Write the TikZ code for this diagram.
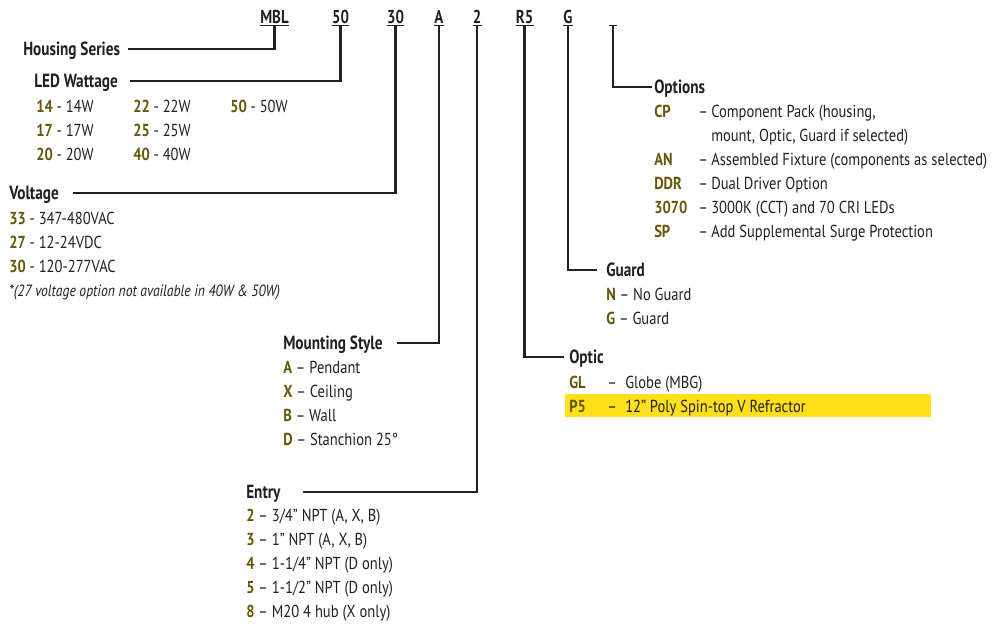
\documentclass[tikz,border=0pt]{standalone}
\usepackage{fontspec}
\setmainfont{PT Sans}[FakeStretch=0.84]
\newfontfamily\lblfont{PT Sans}[FakeStretch=0.8]
\definecolor{ink}{RGB}{35,31,32}
\definecolor{olive}{RGB}{104,86,8}
\definecolor{hl}{RGB}{255,224,26}
\newcommand\kk[1]{\textcolor{olive}{\bfseries #1}}
\newcommand\orow[4]{\makebox[#2][l]{\kk{#1}}\makebox[#3][l]{–}#4}
\begin{document}
\begin{tikzpicture}[x=0.75pt,y=-0.75pt,
 code/.style={font=\lblfont\bfseries\fontsize{14}{16}\selectfont, text=ink, inner sep=0pt, text height=9.8pt, text depth=0pt, anchor=center},
 lbl/.style={font=\lblfont\bfseries\fontsize{14.3}{16}\selectfont, text=ink, inner sep=0pt, text height=10pt, text depth=0pt, anchor=west},
 item/.style={font=\fontsize{13}{15}\selectfont, text=ink, inner sep=0pt, text height=9.1pt, text depth=0pt, anchor=west},
 note/.style={font=\fontsize{12.2}{14}\selectfont\itshape, text=ink, inner sep=0pt, text height=8.5pt, text depth=0pt, anchor=west},
 conn/.style={draw=ink, line width=1.7pt},
 uline/.style={draw=ink, line width=0.8pt}]
\useasboundingbox (0,0) rectangle (1000,625);
% highlight
\fill[hl] (565,394) rectangle (931,417);
% codes
\node[code] (mbl) at (274.5,17) {MBL};
\node[code] (c50) at (340.5,17) {50};
\node[code] (c30) at (395.5,17) {30};
\node[code] (cA) at (439,17) {A};
\node[code] (c2) at (477,17) {2};
\node[code] (cR5) at (524.5,17) {R5};
\node[code] (cG) at (568,17) {G};
\node[code, minimum width=5.25pt] (cO) at (613,17) {};
\foreach \c in {mbl,c50,c30,cA,c2,cR5,cG,cO}
  \draw[uline] ([yshift=-1.5pt]\c.south west) -- ([yshift=-1.5pt]\c.south east);
% labels
\node[lbl] (hs) at (23,49) {Housing Series};
\node[lbl] (led) at (34,81) {LED Wattage};
\node[lbl] (volt) at (9,193) {Voltage};
\node[lbl] (mount) at (283,343) {Mounting Style};
\node[lbl] (entry) at (246,492) {Entry};
\node[lbl] (guard) at (606,270) {Guard};
\node[lbl] (optic) at (569,357) {Optic};
\node[lbl] (opts) at (654,87) {Options};
% connectors
\draw[conn] ([yshift=-1.5pt]mbl.south) |- ([xshift=6pt]hs.east);
\draw[conn] ([yshift=-1.5pt]c50.south) |- ([xshift=9pt]led.east);
\draw[conn] ([yshift=-1.5pt]c30.south) |- ([xshift=10.5pt]volt.east);
\draw[conn] ([yshift=-1.5pt]cA.south) |- ([xshift=10.5pt]mount.east);
\draw[conn] ([yshift=-1.5pt]c2.south) |- ([xshift=17pt]entry.east);
\draw[conn] ([yshift=-1.5pt]cR5.south) |- ([xshift=-3.75pt]optic.west);
\draw[conn] ([yshift=-1.5pt]cG.south) |- ([xshift=-6.75pt]guard.west);
\draw[conn] ([yshift=-1.5pt]cO.south) |- ([xshift=-1.5pt]opts.west);
% wattage
\node[item] (w14) at (36,106) {\kk{14} - 14W};
\node[item] (w17) at (36,130) {\kk{17} - 17W};
\node[item] (w20) at (36,154) {\kk{20} - 20W};
\node[item] (w22) at (133,106) {\kk{22} - 22W};
\node[item] (w25) at (133,130) {\kk{25} - 25W};
\node[item] (w40) at (133,154) {\kk{40} - 40W};
\node[item] (w50) at (230,106) {\kk{50} - 50W};
% voltage
\node[item] (v33) at (9,218) {\kk{33} - 347-480VAC};
\node[item] (v27) at (9,242) {\kk{27} - 12-24VDC};
\node[item] (v30) at (9,266) {\kk{30} - 120-277VAC};
\node[note] (vnote) at (9,291) {*(27 voltage option not available in 40W \& 50W)};
% mounting
\node[item] (mA) at (283,367) {\kk{A} – Pendant};
\node[item] (mX) at (283,391) {\kk{X} – Ceiling};
\node[item] (mB) at (283,415) {\kk{B} – Wall};
\node[item] (mD) at (283,439) {\kk{D} – Stanchion 25°};
% entry
\node[item] (e2) at (246,515) {\kk{2} – 3/4” NPT (A, X, B)};
\node[item] (e3) at (246,539) {\kk{3} – 1” NPT (A, X, B)};
\node[item] (e4) at (246,563) {\kk{4} – 1-1/4” NPT (D only)};
\node[item] (e5) at (246,587) {\kk{5} – 1-1/2” NPT (D only)};
\node[item] (e8) at (246,611) {\kk{8} – M20 4 hub (X only)};
% guard
\node[item] (gN) at (606,294) {\kk{N} – No Guard};
\node[item] (gG) at (606,318) {\kk{G} – Guard};
% optic
\node[item] (oGL) at (569,382) {\orow{GL}{28.5pt}{13.5pt}{Globe (MBG)}};
\node[item] (oP5) at (569,406) {\orow{P5}{28.5pt}{13.5pt}{12” Poly Spin-top V Refractor}};
% options
\node[item] (pCP) at (654,111) {\orow{CP}{33pt}{9.75pt}{Component Pack (housing,}};
\node[item] (pCP2) at (711,135) {mount, Optic, Guard if selected)};
\node[item] (pAN) at (654,159) {\orow{AN}{33pt}{9.75pt}{Assembled Fixture (components as selected)}};
\node[item] (pDDR) at (654,183) {\orow{DDR}{33pt}{9.75pt}{Dual Driver Option}};
\node[item] (p3070) at (654,207) {\orow{3070}{33pt}{9.75pt}{3000K (CCT) and 70 CRI LEDs}};
\node[item] (pSP) at (654,231) {\orow{SP}{33pt}{9.75pt}{Add Supplemental Surge Protection}};
\end{tikzpicture}
\end{document}
